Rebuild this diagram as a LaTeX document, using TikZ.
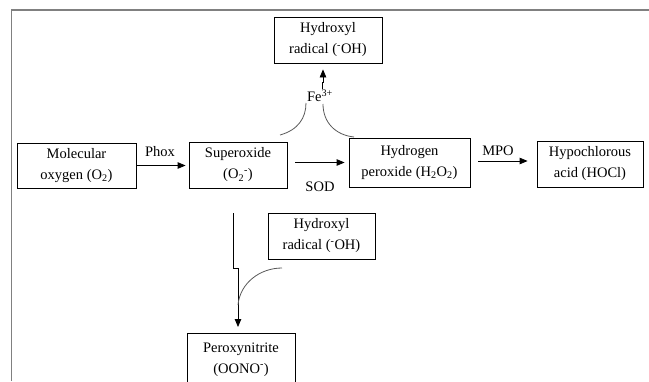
\documentclass[tikz,border=0pt]{standalone}
\usepackage{fontspec}
\setmainfont{Liberation Serif}
\usetikzlibrary{arrows.meta}
\begin{document}
\begin{tikzpicture}[x=1pt,y=-1pt,
  box/.style={draw=black, line width=0.8pt, align=center, inner sep=0pt,
    font=\fontsize{14.5}{21}\selectfont},
  lbl/.style={inner sep=0pt, font=\fontsize{14.5}{17}\selectfont},
  arr/.style={draw=black, line width=0.8pt, -{Triangle[length=8pt,width=6.5pt]}},
  curv/.style={draw=black!65, line width=0.8pt},
  frame/.style={draw=black!50, line width=1.6pt}]
\useasboundingbox (0,0) rectangle (649,381);
\fill[white] (0,0) rectangle (649,381);
% frame
\draw[frame] (11.5,381) -- (11.5,10) -- (649,10);
% nodes
\node[box, minimum width=119pt, minimum height=45pt] (mol) at (76.5,165.5) {Molecular\\oxygen (O\textsubscript{2})};
\node[box, minimum width=98pt, minimum height=46pt] (sup) at (238,165) {Superoxide\\(O\textsubscript{2}\textsuperscript{-})};
\node[box, minimum width=121pt, minimum height=49pt] (hp) at (409.5,162.5) {Hydrogen\\peroxide (H\textsubscript{2}O\textsubscript{2})};
\node[box, minimum width=106pt, minimum height=46pt] (hocl) at (590,164) {Hypochlorous\\acid (HOCl)};
\node[box, minimum width=108pt, minimum height=46pt] (oh1) at (328,40) {Hydroxyl\\radical (\textsuperscript{-}OH)};
\node[box, minimum width=107pt, minimum height=46pt] (oh2) at (321.5,236) {Hydroxyl\\radical (\textsuperscript{-}OH)};
\node[box, minimum width=108pt, minimum height=52pt, anchor=north] (per) at (241,333) {Peroxynitrite\\(OONO\textsuperscript{-})};
% labels
\node[lbl] (phox) at (160,152) {Phox};
\node[lbl] (sod) at (320,187) {SOD};
\node[lbl] (mpo) at (498,151) {MPO};
\node[lbl] (fe) at (320,96) {Fe\textsuperscript{3+}};
% horizontal arrows
\draw[arr, shorten >=3pt] (mol.east) -- (mol.east -| sup.west);
\draw[arr, shorten <=8pt, shorten >=4pt] (sup.east |- hp.west) -- (hp.west);
\draw[arr, shorten <=8pt, shorten >=9pt] ([yshift=1.5pt]hp.east) -- ([yshift=1.5pt]hp.east -| hocl.west);
% top arrow to hydroxyl radical
\coordinate (t0) at (322,89);
\coordinate (t1) at (322,82);
\coordinate (t2) at (323,82);
\draw[arr, shorten >=6pt] (t0) -- (t1) -- (t2) -- (t2 |- oh1.south);
% curves from superoxide / hydrogen peroxide to Fe
\coordinate (cl0) at (280,135);
\coordinate (cl1) at (306,103);
\coordinate (cr0) at (323,104);
\coordinate (cr1) at (354,137);
\draw[curv] (cl0) .. controls (298,130) and (306,118) .. (cl1);
\draw[curv] (cr0) .. controls (323,122) and (335,135) .. (cr1);
% bottom arrow to peroxynitrite
\coordinate (b0) at (233,213);
\coordinate (b1) at (233,268);
\coordinate (b2) at (238,268);
\draw[arr, shorten >=6pt] (b0) -- (b1) -- (b2) -- (b2 |- per.north);
% curve from hydroxyl radical
\coordinate (cb0) at (282,268);
\coordinate (cb1) at (238,305);
\draw[curv] (cb0) .. controls (260,268) and (240,283) .. (cb1);
\end{tikzpicture}
\end{document}
